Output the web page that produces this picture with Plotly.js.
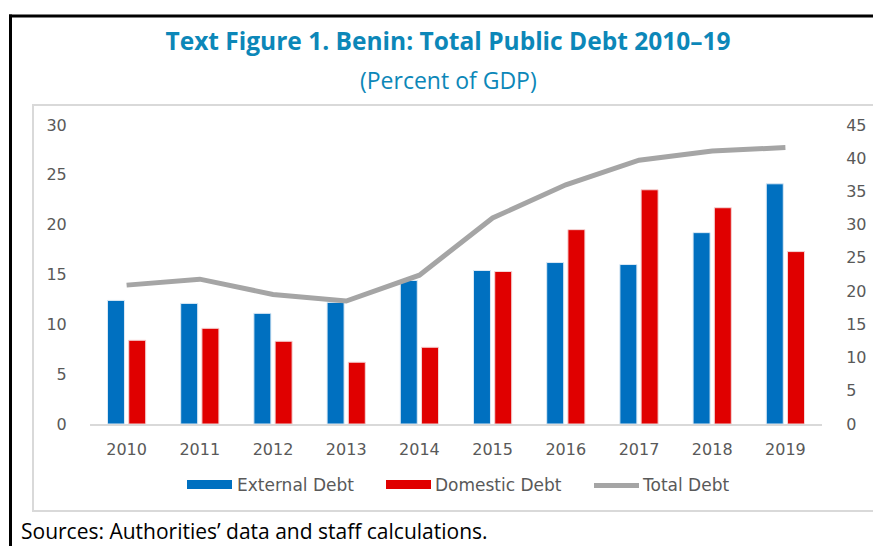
<!DOCTYPE html>
<html>
<head>
<meta charset="utf-8">
<script src="https://cdn.plot.ly/plotly-3.0.1.min.js"></script>
<style>html,body{margin:0;padding:0;background:#fff;}#chart{width:873px;height:546px;}</style>
</head>
<body>
<div id="chart"></div>
<script>
// ---- Data ----
const years = ["2010","2011","2012","2013","2014","2015","2016","2017","2018","2019"];
const externalDebt = [12.4, 12.1, 11.1, 12.2, 14.4, 15.4, 16.2, 16.0, 19.2, 24.1];
const domesticDebt = [8.4, 9.6, 8.3, 6.2, 7.7, 15.3, 19.5, 23.5, 21.7, 17.3];
const totalDebt = [20.9, 21.8, 19.5, 18.5, 22.4, 31.0, 36.0, 39.7, 41.1, 41.6];
const leftTicks = [0, 5, 10, 15, 20, 25, 30];
const rightTicks = [0, 5, 10, 15, 20, 25, 30, 35, 40, 45];
const seriesNames = ["External Debt", "Domestic Debt", "Total Debt"];
const titleText = "Text Figure 1. Benin: Total Public Debt 2010–19";
const subtitleText = "(Percent of GDP)";
const sourceText = "Sources: Authorities’ data and staff calculations.";

// ---- Styling ----
const W = 873, H = 546;
const L = 90, R = 51, T = 125, B = 122;
const pw = W - L - R, ph = H - T - B;
const X = px => (px - L) / pw;
const Y = py => (H - B - py) / ph;
const blue = "#0070C0", red = "#E00000", gray = "#A5A5A5";
const tickColor = "#595959";
const tickFont = {family: "DejaVu Sans", size: 16, color: tickColor};

const traces = [
  {type: "bar", name: seriesNames[0], x: years, y: externalDebt,
   marker: {color: blue, line: {color: "#dbe9f5", width: 1}}, yaxis: "y", showlegend: false},
  {type: "bar", name: seriesNames[1], x: years, y: domesticDebt,
   marker: {color: red, line: {color: "#f5d5d5", width: 1}}, yaxis: "y", showlegend: false},
  {type: "scatter", mode: "lines", name: seriesNames[2], x: years, y: totalDebt,
   line: {color: gray, width: 5, shape: "linear"}, yaxis: "y2", showlegend: false}
];

const shapes = [
  // outer black frame (left & top)
  {type: "line", xref: "paper", yref: "paper", x0: X(10.5), x1: X(10.5), y0: Y(14.5), y1: Y(560), line: {color: "#000", width: 3}},
  {type: "line", xref: "paper", yref: "paper", x0: X(9), x1: X(880), y0: Y(16), y1: Y(16), line: {color: "#000", width: 3}},
  // inner gray box
  {type: "rect", xref: "paper", yref: "paper", x0: X(33), x1: X(885), y0: Y(105), y1: Y(511), line: {color: "#D9D9D9", width: 2}},
  // legend swatches
  {type: "rect", xref: "paper", yref: "paper", x0: X(187), x1: X(232), y0: Y(480), y1: Y(489), fillcolor: blue, line: {width: 0}},
  {type: "rect", xref: "paper", yref: "paper", x0: X(386), x1: X(431), y0: Y(480), y1: Y(489), fillcolor: red, line: {width: 0}},
  {type: "line", xref: "paper", yref: "paper", x0: X(594), x1: X(639), y0: Y(485.5), y1: Y(485.5), line: {color: gray, width: 5}}
];

const legFont = {family: "DejaVu Sans", size: 17, color: tickColor};
const annotations = [
  {xref: "paper", yref: "paper", x: X(448), y: Y(80), xanchor: "center", yanchor: "middle", showarrow: false,
   text: subtitleText, font: {family: "Open Sans", size: 23, color: "#0C87B8"}},
  {xref: "paper", yref: "paper", x: X(235), y: Y(485), xanchor: "left", yanchor: "middle", showarrow: false, text: seriesNames[0], font: legFont},
  {xref: "paper", yref: "paper", x: X(433), y: Y(485), xanchor: "left", yanchor: "middle", showarrow: false, text: seriesNames[1], font: legFont},
  {xref: "paper", yref: "paper", x: X(640), y: Y(485), xanchor: "left", yanchor: "middle", showarrow: false, text: seriesNames[2], font: legFont},
  {xref: "paper", yref: "paper", x: X(20), y: Y(546), xanchor: "left", yanchor: "bottom", showarrow: false, borderpad: 0,
   text: sourceText, font: {family: "Open Sans", size: 21, color: "#000"}}
];

const layout = {
  width: W, height: H,
  margin: {l: L, r: R, t: T, b: B, pad: 0},
  paper_bgcolor: "#fff", plot_bgcolor: "rgba(0,0,0,0)",
  title: {text: "<b>" + titleText + "</b>", x: 448 / W, xanchor: "center", xref: "container",
          y: 1 - 41 / H, yref: "container", yanchor: "middle",
          font: {family: "Open Sans", size: 24.5, color: "#0C87B8"}},
  barmode: "group", bargap: 0.42, bargroupgap: 0.2,
  showlegend: false,
  xaxis: {type: "category", tickvals: years, ticktext: years, showgrid: false, zeroline: false,
          showline: true, linecolor: "#D9D9D9", linewidth: 2,
          ticks: "outside", ticklen: 10, tickcolor: "rgba(0,0,0,0)", tickfont: tickFont, fixedrange: true},
  yaxis: {range: [0, 30], tickvals: leftTicks, ticktext: leftTicks.map(String), showgrid: false, zeroline: false,
          showline: false, ticks: "outside", ticklen: 19, tickcolor: "rgba(0,0,0,0)", tickfont: tickFont},
  yaxis2: {range: [0, 45], tickvals: rightTicks, ticktext: rightTicks.map(String), overlaying: "y", side: "right",
           showgrid: false, zeroline: false, showline: false, ticks: "outside", ticklen: 20,
           tickcolor: "rgba(0,0,0,0)", tickfont: tickFont},
  shapes: shapes,
  annotations: annotations
};

Plotly.newPlot("chart", traces, layout, {displayModeBar: false, staticPlot: true});
</script>
</body>
</html>
